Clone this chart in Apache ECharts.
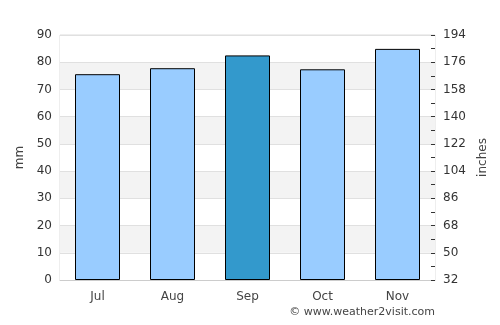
<!DOCTYPE html>
<html>
<head>
<meta charset="utf-8">
<script src="https://cdn.jsdelivr.net/npm/echarts@6/dist/echarts.min.js"></script>
<style>
  html, body { margin: 0; padding: 0; background: #fff; }
  #chart { width: 500px; height: 325px; }
</style>
</head>
<body>
<div id="chart"></div>
<script>
// 月份和降雨量(mm)
var months = ['Jul', 'Aug', 'Sep', 'Oct', 'Nov'];
var rainMm = [75.6, 77.8, 82.5, 77.4, 84.9];
var highlightIndex = 2;
// 右轴刻度：从32开始，每18一档
var rightBase = 32;
var rightStep = 18;
var rightSteps = 9;

var barData = rainMm.map(function (v, i) {
  return {
    value: v,
    itemStyle: { color: i === highlightIndex ? '#3399cc' : '#99ccff' }
  };
});

var font = 'DejaVu Sans';
var chart = echarts.init(document.getElementById('chart'));
chart.setOption({
  animation: false,
  textStyle: { fontFamily: font },
  grid: {
    left: 60,
    right: 65,
    top: 35,
    bottom: 45,
    show: true,
    borderColor: '#dddddd',
    borderWidth: 1,
    backgroundColor: 'transparent'
  },
  graphic: [{
    type: 'text',
    right: 65,
    top: 307,
    style: {
      text: '© www.weather2visit.com',
      fontFamily: font,
      fontSize: 11,
      fill: '#444'
    }
  }],
  xAxis: {
    type: 'category',
    data: months,
    axisLine: { lineStyle: { color: '#cccccc' } },
    axisTick: { show: false },
    axisLabel: { color: '#444', fontSize: 12, margin: 11, fontFamily: font }
  },
  yAxis: [{
    type: 'value',
    min: 0,
    max: 90,
    interval: 10,
    name: 'mm',
    nameLocation: 'middle',
    nameGap: 33,
    nameTextStyle: { color: '#444', fontSize: 12, fontFamily: font },
    axisLine: { show: false },
    axisTick: { show: false },
    axisLabel: { color: '#333', fontSize: 12, margin: 8, fontFamily: font },
    splitLine: { lineStyle: { color: '#e0e0e0' } },
    splitArea: { show: true, areaStyle: { color: ['#ffffff', '#f3f3f3'] } }
  }, {
    type: 'value',
    position: 'right',
    min: 0,
    max: rightStep * rightSteps,
    interval: rightStep,
    name: 'inches',
    nameLocation: 'middle',
    nameGap: 41,
    nameTextStyle: { color: '#444', fontSize: 12, fontFamily: font },
    axisLine: { show: false },
    axisTick: { show: true, inside: true, length: 4, lineStyle: { color: '#333' } },
    minorTick: { show: true, splitNumber: 2, length: 4, lineStyle: { color: '#333' } },
    axisLabel: {
      color: '#333',
      fontSize: 12,
      margin: 8,
      fontFamily: font,
      formatter: function (v) { return String(v + rightBase); }
    },
    splitLine: { show: false }
  }],
  series: [{
    type: 'bar',
    data: barData,
    barWidth: 45,
    itemStyle: { borderColor: '#000', borderWidth: 1 }
  }]
});
</script>
</body>
</html>
